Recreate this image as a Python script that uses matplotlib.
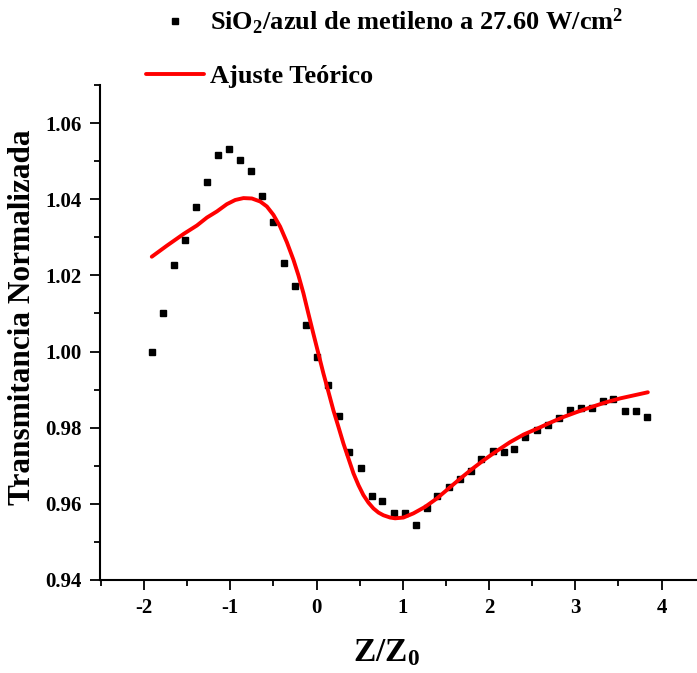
import matplotlib
matplotlib.use("Agg")
import matplotlib.pyplot as plt
from matplotlib.ticker import MultipleLocator

plt.rcParams['font.family'] = ['Liberation Serif', 'DejaVu Serif']
plt.rcParams['font.weight'] = 'bold'
plt.rcParams['axes.labelweight'] = 'bold'
plt.rcParams['mathtext.fontset'] = 'custom'
plt.rcParams['mathtext.rm'] = 'Liberation Serif:bold'
plt.rcParams['mathtext.default'] = 'regular'

# experimental points
z_exp = [-1.91, -1.78, -1.65, -1.53, -1.40, -1.27, -1.14, -1.02, -0.89, -0.76,
         -0.63, -0.51, -0.38, -0.25, -0.12, 0.00, 0.13, 0.26, 0.38, 0.51,
         0.64, 0.76, 0.90, 1.02, 1.15, 1.28, 1.40, 1.53, 1.66, 1.79,
         1.91, 2.04, 2.17, 2.29, 2.42, 2.55, 2.68, 2.81, 2.94, 3.06,
         3.19, 3.32, 3.44, 3.57, 3.70, 3.83]
t_exp = [1.0000, 1.0101, 1.0226, 1.0293, 1.0380, 1.0446, 1.0515, 1.0533, 1.0503, 1.0475,
         1.0408, 1.0340, 1.0233, 1.0171, 1.0069, 0.9985, 0.9913, 0.9830, 0.9737, 0.9693,
         0.9621, 0.9607, 0.9575, 0.9577, 0.9545, 0.9590, 0.9620, 0.9643, 0.9666, 0.9687,
         0.9718, 0.9740, 0.9736, 0.9745, 0.9776, 0.9793, 0.9806, 0.9825, 0.9846, 0.9851,
         0.9851, 0.9869, 0.9876, 0.9844, 0.9845, 0.9829]

# theoretical fit
z_fit = [-1.91, -1.735, -1.54, -1.387, -1.27, -1.155, -1.04, -0.943, -0.847, -0.75,
         -0.653, -0.576, -0.50, -0.422, -0.344, -0.268, -0.21, -0.152, -0.094, -0.036,
         0.022, 0.08, 0.138, 0.196, 0.254, 0.312, 0.37, 0.428, 0.486, 0.543,
         0.602, 0.659, 0.718, 0.775, 0.853, 0.911, 1.007, 1.123, 1.258, 1.394,
         1.529, 1.664, 1.80, 1.934, 2.09, 2.243, 2.40, 2.553, 2.707, 2.861,
         3.016, 3.17, 3.344, 3.52, 3.84]
t_fit = [1.0249, 1.0278, 1.0309, 1.0331, 1.0352, 1.0368, 1.0387, 1.0398, 1.0403, 1.0402,
         1.0394, 1.0381, 1.0359, 1.0328, 1.0287, 1.0241, 1.0200, 1.0153, 1.0099, 1.0046,
         0.9994, 0.9942, 0.9894, 0.9845, 0.9802, 0.9758, 0.9719, 0.9680, 0.9649, 0.9623,
         0.9603, 0.9588, 0.9577, 0.9570, 0.9564, 0.9562, 0.9564, 0.9575, 0.9592, 0.9614,
         0.9640, 0.9666, 0.9691, 0.9714, 0.9739, 0.9762, 0.9782, 0.9797, 0.9813, 0.9828,
         0.9841, 0.9853, 0.9866, 0.9877, 0.9893]

fig = plt.figure(figsize=(6.97, 6.73), dpi=100)
ax = fig.add_axes([0.1435, 0.1382, 0.8565, 0.7355])

ax.plot(z_exp, t_exp, 's', color='black', markersize=4.5,
        label='SiO$_2$/azul de metileno a 27.60 W/cm$^2$')
ax.plot(z_fit, t_fit, '-', color='red', lw=2.8, solid_joinstyle='round',
        solid_capstyle='round', label='Ajuste Teórico')

ax.set_xlim(-2.51, 4.41)
ax.set_ylim(0.94, 1.07)
ax.xaxis.set_minor_locator(MultipleLocator(0.5))
ax.yaxis.set_minor_locator(MultipleLocator(0.01))
ax.set_yticks([0.94, 0.96, 0.98, 1.00, 1.02, 1.04, 1.06])
ax.set_yticklabels(['0.94', '0.96', '0.98', '1.00', '1.02', '1.04', '1.06'])
ax.set_xticks([-2, -1, 0, 1, 2, 3, 4])
ax.set_xticklabels(['-2', '-1', '0', '1', '2', '3', '4'])

for s in ['top', 'right']:
    ax.spines[s].set_visible(False)
for s in ['left', 'bottom']:
    ax.spines[s].set_linewidth(1.5)
ax.tick_params(which='major', direction='out', length=7, width=1.3, labelsize=15, pad=6)
ax.tick_params(which='minor', direction='out', length=4, width=1.3)

ax.set_xlabel('Z/Z$_0$', fontsize=24)
ax.xaxis.set_label_coords(0.48, -0.115)
ax.set_ylabel('Transmitancia Normalizada', fontsize=22.5)
ax.yaxis.set_label_coords(-0.106, 0.53)

fig.legend(loc='upper left', bbox_to_anchor=(0.176, 1.025), frameon=False,
           fontsize=19, handlelength=2.2, handletextpad=0.2, labelspacing=1.05)

fig.savefig('out.png', dpi=100)
